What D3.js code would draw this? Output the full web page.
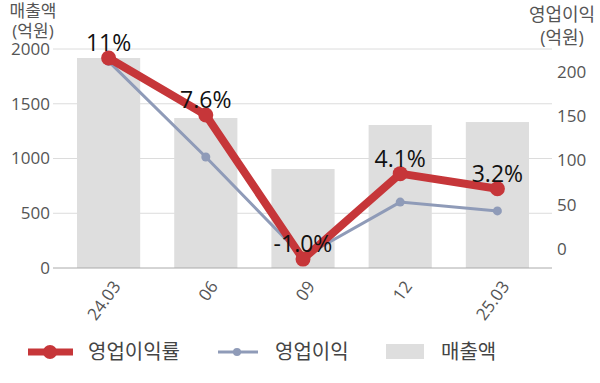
<!DOCTYPE html>
<html>
<head>
<meta charset="utf-8">
<script src="https://cdn.jsdelivr.net/npm/d3@7"></script>
<style>
  body { margin: 0; background: #fff; }
  text { font-family: "Open Sans", "Noto Sans CJK KR", sans-serif; }
</style>
</head>
<body>
<svg id="canvas" width="600" height="383"></svg>
<script>
// data
let periods = ["24.03", "06", "09", "12", "25.03"];
let sales = [1918, 1370, 904, 1306, 1333];          // 매출액 (억원)
let opProfit = [212, 104, -9, 53, 43];              // 영업이익 (억원)
let opMargin = [11, 7.6, -1.0, 4.1, 3.2];           // 영업이익률 (%)
let marginLabels = ["11%", "7.6%", "-1.0%", "4.1%", "3.2%"];
let leftTicks = [0, 500, 1000, 1500, 2000];
let rightTicks = [0, 50, 100, 150, 200];

let svg = d3.select("#canvas");

let plotTop = 49, plotBottom = 268;

let x = d3.scaleBand().domain(periods).range([60, 546]).paddingInner(0.35).paddingOuter(0.175);
let ySales = d3.scaleLinear().domain([0, 2000]).range([plotBottom, plotTop]);
let yProfit = d3.scaleLinear().domain([-21.5, 226]).range([plotBottom, plotTop]);
let yMargin = d3.scaleLinear().domain([-1.53, 11.54]).range([plotBottom, plotTop]);

let red = "#c63639";
let blue = "#8f9bb8";
let barColor = "#dedede";

// gridlines
svg.append("g")
    .selectAll("line")
    .data(leftTicks.filter(d => d > 0))
    .enter()
    .append("line")
    .attr("x1", 53).attr("x2", 552)
    .attr("y1", d => ySales(d)).attr("y2", d => ySales(d))
    .attr("stroke", "#dcdcdc")
    .attr("stroke-width", 1);

// bars
svg.append("g")
    .selectAll("rect")
    .data(periods)
    .enter()
    .append("rect")
    .attr("x", d => x(d))
    .attr("width", x.bandwidth())
    .attr("y", (d, i) => ySales(sales[i]))
    .attr("height", (d, i) => plotBottom - ySales(sales[i]))
    .attr("fill", barColor);

// bottom axis line
svg.append("line")
    .attr("x1", 53).attr("x2", 552)
    .attr("y1", plotBottom).attr("y2", plotBottom)
    .attr("stroke", "#aaa");

// left axis
let leftAxis = svg.append("g")
    .attr("transform", "translate(50,0)")
    .call(d3.axisLeft(ySales).tickValues(leftTicks).tickFormat(d3.format("d")).tickSize(0).tickPadding(0));
leftAxis.select(".domain").remove();
leftAxis.selectAll("text").attr("font-size", 17).attr("fill", "#555")
    .style("font-family", "'Open Sans', sans-serif");

// right axis
let rightAxis = svg.append("g")
    .attr("transform", "translate(557,0)")
    .call(d3.axisRight(yProfit).tickValues(rightTicks).tickFormat(d3.format("d")).tickSize(0).tickPadding(0));
rightAxis.select(".domain").remove();
rightAxis.selectAll("text").attr("font-size", 17).attr("fill", "#555")
    .style("font-family", "'Open Sans', sans-serif");

// x axis labels
let xAxis = svg.append("g")
    .attr("transform", "translate(0," + plotBottom + ")")
    .call(d3.axisBottom(x).tickSize(0).tickPadding(0));
xAxis.select(".domain").remove();
xAxis.selectAll("text")
    .attr("font-size", 17)
    .attr("fill", "#555")
    .attr("text-anchor", "end")
    .attr("dy", "0.35em")
    .attr("transform", "translate(8,15) rotate(-54)")
    .style("font-family", "'Open Sans', sans-serif");

// axis titles
let titleStyle = sel => sel.attr("font-size", 18).attr("fill", "#555").attr("text-anchor", "middle");
svg.append("text").attr("x", 33).attr("y", 17).text("매출액").call(titleStyle).attr("font-size", 17);
svg.append("text").attr("x", 33).attr("y", 37).text("(억원)").call(titleStyle).attr("font-size", 17);
svg.append("text").attr("x", 562).attr("y", 21).text("영업이익").call(titleStyle);
svg.append("text").attr("x", 562).attr("y", 44).text("(억원)").call(titleStyle);

let cx = d => x(d) + x.bandwidth() / 2;

// 영업이익 line
let profitLine = d3.line().x((d, i) => cx(periods[i])).y(d => yProfit(d));
svg.append("path")
    .datum(opProfit)
    .attr("d", profitLine)
    .attr("fill", "none")
    .attr("stroke", blue)
    .attr("stroke-width", 3);
svg.append("g").selectAll("circle")
    .data(opProfit).enter().append("circle")
    .attr("cx", (d, i) => cx(periods[i]))
    .attr("cy", d => yProfit(d))
    .attr("r", 4.5)
    .attr("fill", blue);

// 영업이익률 line
let marginLine = d3.line().x((d, i) => cx(periods[i])).y(d => yMargin(d));
svg.append("path")
    .datum(opMargin)
    .attr("d", marginLine)
    .attr("fill", "none")
    .attr("stroke", red)
    .attr("stroke-width", 8)
    .attr("stroke-linejoin", "round");
svg.append("g").selectAll("circle")
    .data(opMargin).enter().append("circle")
    .attr("cx", (d, i) => cx(periods[i]))
    .attr("cy", d => yMargin(d))
    .attr("r", 7.5)
    .attr("fill", red);

// labels
svg.append("g").selectAll("text")
    .data(opMargin).enter().append("text")
    .attr("x", (d, i) => cx(periods[i]))
    .attr("y", d => yMargin(d) - 7)
    .attr("text-anchor", "middle")
    .attr("font-size", 23)
    .attr("fill", "#111")
    .text((d, i) => marginLabels[i]);

// legend
let ly = 352;
let legend = svg.append("g");
legend.append("line").attr("x1", 28).attr("x2", 73).attr("y1", ly).attr("y2", ly)
    .attr("stroke", red).attr("stroke-width", 7);
legend.append("circle").attr("cx", 50).attr("cy", ly).attr("r", 7).attr("fill", red);
legend.append("text").attr("x", 88).attr("y", ly + 7).attr("font-size", 20).attr("fill", "#444").text("영업이익률");

legend.append("line").attr("x1", 218).attr("x2", 258).attr("y1", ly).attr("y2", ly)
    .attr("stroke", blue).attr("stroke-width", 3);
legend.append("circle").attr("cx", 237).attr("cy", ly).attr("r", 4).attr("fill", blue);
legend.append("text").attr("x", 275).attr("y", ly + 7).attr("font-size", 20).attr("fill", "#444").text("영업이익");

legend.append("rect").attr("x", 386).attr("y", ly - 8).attr("width", 38).attr("height", 15).attr("fill", barColor);
legend.append("text").attr("x", 441).attr("y", ly + 7).attr("font-size", 20).attr("fill", "#444").text("매출액");
</script>
</body>
</html>
